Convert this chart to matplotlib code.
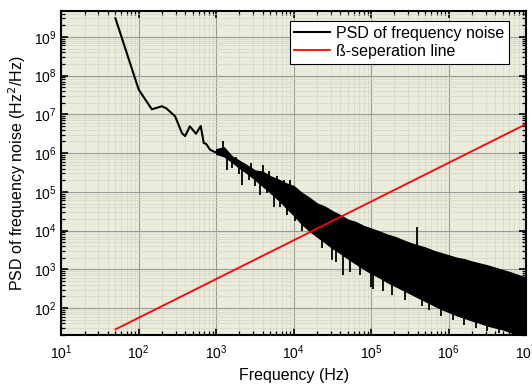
import matplotlib.pyplot as plt
import numpy as np

plt.rcParams['font.family'] = ['Liberation Sans', 'DejaVu Sans']

# PSD trace at low frequency (log10 freq, log10 PSD)
trace_logf = [1.70, 2.00, 2.17, 2.30, 2.36, 2.47, 2.56, 2.60, 2.66, 2.74, 2.80, 2.84, 2.87,
              2.92, 2.99, 3.03]
trace_logp = [9.48, 7.64, 7.13, 7.21, 7.15, 6.95, 6.51, 6.44, 6.69, 6.50, 6.70, 6.26, 6.24,
              6.09, 6.02, 6.05]

# noisy part: upper / lower edge of the black band
band_logf = [3.0, 3.1, 3.2, 3.3, 3.4, 3.5, 3.6, 3.7, 3.8, 3.9, 4.0, 4.1, 4.2, 4.3, 4.4,
             4.5, 4.6, 4.7, 4.8, 4.9, 5.0, 5.1, 5.2, 5.3, 5.4, 5.5, 5.6, 5.7, 5.8, 5.9,
             6.0, 6.1, 6.2, 6.3, 6.4, 6.5, 6.6, 6.7, 6.8, 6.9, 7.0]
band_hi = [6.10, 6.15, 5.92, 5.80, 5.68, 5.55, 5.52, 5.40, 5.32, 5.22, 5.15, 4.98, 4.85,
           4.70, 4.62, 4.50, 4.40, 4.28, 4.22, 4.12, 4.05, 3.98, 3.90, 3.84, 3.76, 3.68,
           3.62, 3.56, 3.48, 3.42, 3.36, 3.30, 3.26, 3.20, 3.15, 3.10, 3.04, 2.98, 2.92,
           2.85, 2.78]
band_lo = [5.98, 5.92, 5.78, 5.62, 5.48, 5.32, 5.15, 4.98, 4.80, 4.60, 4.40, 4.18, 4.00,
           3.85, 3.70, 3.55, 3.42, 3.28, 3.15, 3.02, 2.90, 2.80, 2.68, 2.58, 2.48, 2.38,
           2.28, 2.18, 2.08, 1.98, 1.90, 1.82, 1.75, 1.68, 1.62, 1.55, 1.50, 1.45, 1.38,
           1.30, 1.25]

# single spikes poking out of the band: frequency, tip, root
spike_logf = [3.09, 3.14, 3.20, 3.25, 3.29, 3.33, 3.42, 3.45, 3.50, 3.57, 3.61, 3.65, 3.68,
              3.74, 3.78, 3.83, 3.87, 3.91, 3.95, 4.02, 4.06, 4.11, 4.23, 4.36, 4.49, 4.55,
              4.64, 4.73, 4.85, 5.00, 5.03, 5.15, 5.27, 5.44, 5.59, 5.65, 5.75, 5.90, 6.05,
              6.20, 6.35, 6.50, 6.65]
spike_tip = [6.32, 5.56, 5.62, 5.90, 5.45, 5.17, 5.30, 5.75, 5.15, 4.91, 5.68, 4.98, 5.55,
             4.62, 5.42, 4.62, 5.30, 4.40, 5.30, 4.25, 5.05, 3.98, 3.96, 3.55, 3.24, 3.20,
             2.86, 2.92, 2.85, 2.55, 2.50, 2.45, 2.35, 2.21, 4.08, 2.05, 1.95, 1.80, 1.70,
             1.55, 1.48, 1.40, 1.35]
spike_root = [6.05, 5.95, 5.85, 5.70, 5.70, 5.60, 5.55, 5.55, 5.45, 5.30, 5.30, 5.30, 5.20,
              5.10, 5.10, 4.95, 5.00, 4.75, 4.90, 4.65, 4.70, 4.35, 4.20, 4.00, 3.80, 3.70,
              3.60, 3.50, 3.40, 3.20, 3.10, 3.00, 2.90, 2.80, 3.50, 2.60, 2.50, 2.30, 2.20,
              2.10, 2.00, 1.90, 1.80]

# beta-separation line 8 ln2 f / pi^2
beta_f = [50, 1e7]
beta_coef = 8 * np.log(2) / np.pi ** 2

fig = plt.figure(figsize=(5.32, 3.87), dpi=100)
ax = fig.add_axes([0.115, 0.134, 0.874, 0.838])
ax.set_facecolor('#ececdc')

ax.plot(10 ** np.array(trace_logf), 10 ** np.array(trace_logp), color='black', lw=1.5,
        label='PSD of frequency noise')
ax.fill_between(10 ** np.array(band_logf), 10 ** np.array(band_lo), 10 ** np.array(band_hi),
                color='black', lw=1.0)
ax.vlines(10 ** np.array(spike_logf), 10 ** np.array(spike_tip), 10 ** np.array(spike_root),
          color='black', lw=1.3)
bf = np.array(beta_f)
ax.plot(bf, beta_coef * bf, color='red', lw=1.3, label='ß-seperation line')

ax.set_xscale('log')
ax.set_yscale('log')
ax.set_xlim(10, 1e7)
ax.set_ylim(20, 4.7e9)

ax.grid(which='major', color='#9a9a9a', lw=0.8)
ax.grid(which='minor', color='#d6d6c6', lw=0.5)
ax.set_axisbelow(True)

ax.tick_params(which='both', direction='in', top=True, right=True, labelsize=10)
ax.tick_params(which='major', length=5, width=1.2)
ax.tick_params(which='minor', length=3, width=0.9)
ax.tick_params(axis='x', pad=6)
for s in ax.spines.values():
    s.set_linewidth(1.5)

ax.set_xlabel('Frequency (Hz)', fontsize=11.5, labelpad=4)
ax.set_ylabel('PSD of frequency noise (Hz$^2$/Hz)', fontsize=11.5)

leg = ax.legend(loc='upper right', bbox_to_anchor=(0.963, 0.969), borderaxespad=0,
                fontsize=11.5, fancybox=False, framealpha=1, edgecolor='black',
                borderpad=0.3, handlelength=2.2, handletextpad=0.4, labelspacing=0.2)
leg.get_frame().set_linewidth(0.8)

fig.savefig('out.png', dpi=100)
